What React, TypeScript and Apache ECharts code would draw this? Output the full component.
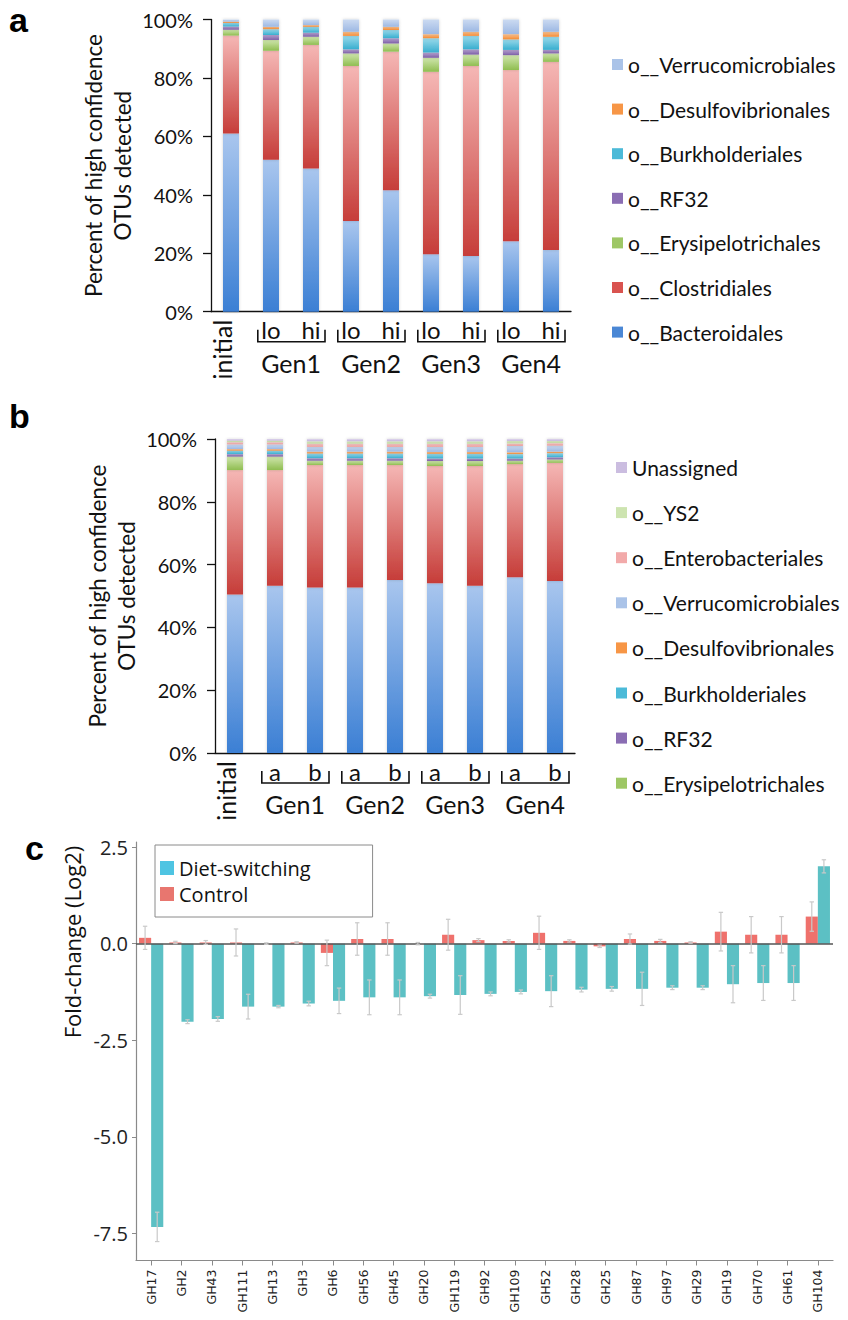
import React, { useEffect, useRef } from "react";
import * as echarts from "echarts";

// ---------- Panel a ----------
const catsA = ["initial", "Gen1 lo", "Gen1 hi", "Gen2 lo", "Gen2 hi", "Gen3 lo", "Gen3 hi", "Gen4 lo", "Gen4 hi"];
const aBacteroidales = [61.0, 52.0, 49.0, 31.0, 41.6, 19.7, 19.1, 24.1, 21.1];
const aClostridiales = [33.5, 37.3, 42.3, 53.1, 47.4, 62.4, 65.0, 58.6, 64.4];
const aErysipelotrichales = [2.0, 3.7, 2.8, 4.3, 2.8, 4.8, 3.9, 5.1, 2.9];
const aRF32 = [1.1, 1.7, 1.4, 1.4, 1.8, 1.8, 1.8, 1.8, 1.2];
const aBurkholderiales = [1.2, 2.0, 2.0, 4.6, 2.8, 4.9, 4.6, 3.6, 4.5];
const aDesulfovibrionales = [0.5, 0.8, 0.6, 1.4, 1.1, 1.4, 1.4, 1.8, 1.7];
const aVerrucomicrobiales = [0.7, 2.5, 1.9, 4.2, 2.5, 5.0, 4.2, 5.0, 4.2];

// ---------- Panel b ----------
const catsB = ["initial", "Gen1 a", "Gen1 b", "Gen2 a", "Gen2 b", "Gen3 a", "Gen3 b", "Gen4 a", "Gen4 b"];
const bBacteroidales = [50.5, 53.3, 52.7, 52.7, 55.1, 54.1, 53.3, 56.0, 54.8];
const bClostridiales = [39.6, 36.8, 39.0, 39.0, 36.6, 37.3, 38.1, 36.0, 37.6];
const bErysipelotrichales = [4.3, 4.3, 1.4, 1.4, 1.4, 1.6, 1.6, 1.1, 1.1];
const bRF32 = [0.8, 0.8, 0.8, 0.8, 0.8, 0.8, 0.8, 0.7, 0.7];
const bBurkholderiales = [1.1, 1.1, 1.5, 1.5, 1.5, 1.5, 1.5, 1.4, 1.3];
const bDesulfovibrionales = [0.5, 0.5, 0.6, 0.6, 0.6, 0.6, 0.6, 0.6, 0.5];
const bVerrucomicrobiales = [1.5, 1.5, 1.5, 1.5, 1.5, 1.6, 1.6, 2.0, 1.9];
const bEnterobacteriales = [0.7, 0.7, 1.0, 1.0, 1.0, 1.0, 1.0, 0.8, 0.8];
const bYS2 = [0.5, 0.5, 0.8, 0.8, 0.8, 0.8, 0.8, 0.8, 0.7];
const bUnassigned = [0.5, 0.5, 0.7, 0.7, 0.7, 0.7, 0.7, 0.6, 0.6];

const genGroups = ["Gen1", "Gen2", "Gen3", "Gen4"];
const pctTicks = [0, 20, 40, 60, 80, 100];

// ---------- Panel c ----------
const ghCats = ["GH17", "GH2", "GH43", "GH111", "GH13", "GH3", "GH6", "GH56", "GH45", "GH20", "GH119", "GH92", "GH109", "GH52", "GH28", "GH25", "GH87", "GH97", "GH29", "GH19", "GH70", "GH61", "GH104"];
const dietVals = [-7.33, -2.02, -1.95, -1.63, -1.63, -1.55, -1.48, -1.39, -1.39, -1.36, -1.33, -1.30, -1.25, -1.23, -1.19, -1.17, -1.17, -1.14, -1.14, -1.05, -1.02, -1.02, 2.0];
const dietErr = [0.38, 0.05, 0.06, 0.32, 0.03, 0.06, 0.33, 0.45, 0.45, 0.05, 0.5, 0.05, 0.05, 0.4, 0.06, 0.06, 0.43, 0.05, 0.05, 0.48, 0.45, 0.45, 0.17];
const controlVals = [0.15, 0.03, 0.03, 0.03, 0.0, 0.03, -0.24, 0.12, 0.12, 0.0, 0.23, 0.09, 0.07, 0.28, 0.07, -0.07, 0.12, 0.07, 0.03, 0.31, 0.23, 0.23, 0.7];
const controlErr = [0.3, 0.03, 0.05, 0.35, 0.02, 0.02, 0.33, 0.42, 0.42, 0.03, 0.4, 0.04, 0.03, 0.43, 0.03, 0.03, 0.13, 0.04, 0.02, 0.5, 0.47, 0.47, 0.38];
const fcTicks = [-7.5, -5, -2.5, 0, 2.5];

const FONT = "Lato, 'Open Sans', sans-serif";
const FONT_C = "'Open Sans', sans-serif";

function grad(top: string, bottom: string) {
  return new echarts.graphic.LinearGradient(0, 0, 0, 1, [
    { offset: 0, color: top },
    { offset: 1, color: bottom },
  ]);
}

type Taxon = { name: string; a?: number[]; b: number[]; top: string; bottom: string; solid: string };
const taxa: Taxon[] = [
  { name: "o__Bacteroidales", a: aBacteroidales, b: bBacteroidales, top: "#a9c6ee", bottom: "#3b7fd4", solid: "#4a87d5" },
  { name: "o__Clostridiales", a: aClostridiales, b: bClostridiales, top: "#f5b7b5", bottom: "#c63d39", solid: "#d9534f" },
  { name: "o__Erysipelotrichales", a: aErysipelotrichales, b: bErysipelotrichales, top: "#d0e6ae", bottom: "#8fbd50", solid: "#9ec765" },
  { name: "o__RF32", a: aRF32, b: bRF32, top: "#b9a6d3", bottom: "#7c5ea6", solid: "#8a6db3" },
  { name: "o__Burkholderiales", a: aBurkholderiales, b: bBurkholderiales, top: "#9bdaeb", bottom: "#38aecf", solid: "#4bbad8" },
  { name: "o__Desulfovibrionales", a: aDesulfovibrionales, b: bDesulfovibrionales, top: "#fbc595", bottom: "#f48a32", solid: "#f79646" },
  { name: "o__Verrucomicrobiales", a: aVerrucomicrobiales, b: bVerrucomicrobiales, top: "#cbdaf1", bottom: "#9db8e3", solid: "#aac3e8" },
  { name: "o__Enterobacteriales", b: bEnterobacteriales, top: "#f9cfcf", bottom: "#ee9a9a", solid: "#f2aaaa" },
  { name: "o__YS2", b: bYS2, top: "#e0eecb", bottom: "#c2dc9f", solid: "#cde4b0" },
  { name: "Unassigned", b: bUnassigned, top: "#e0d7ee", bottom: "#c1b1da", solid: "#cbbde0" },
];

const legendAOrder = ["o__Verrucomicrobiales", "o__Desulfovibrionales", "o__Burkholderiales", "o__RF32", "o__Erysipelotrichales", "o__Clostridiales", "o__Bacteroidales"];
const legendBOrder = ["Unassigned", "o__YS2", "o__Enterobacteriales", "o__Verrucomicrobiales", "o__Desulfovibrionales", "o__Burkholderiales", "o__RF32", "o__Erysipelotrichales"];

const colorOf = (n: string) => taxa.find((t) => t.name === n)!.solid;

function pctAxis(gridIndex: number) {
  return {
    type: "value",
    gridIndex,
    min: 0,
    max: 100,
    interval: 20,
    name: "Percent of high confidence\nOTUs detected",
    nameLocation: "middle",
    nameGap: 74,
    nameTextStyle: { fontFamily: FONT, fontSize: 22.5, color: "#111", lineHeight: 29 },
    axisLine: { show: true, lineStyle: { color: "#111", width: 1.3 } },
    axisTick: { show: true, length: 8, lineStyle: { color: "#111", width: 1.3 } },
    axisLabel: { formatter: "{value}%", fontFamily: FONT, fontSize: 20, color: "#111", margin: 18, customValues: pctTicks },
    splitLine: { show: false },
  };
}

function catAxis(gridIndex: number, cats: string[]) {
  return {
    type: "category",
    gridIndex,
    data: cats,
    axisLine: { show: true, lineStyle: { color: "#111", width: 1.3 } },
    axisTick: { show: false },
    axisLabel: {
      interval: 0,
      margin: 6,
      fontFamily: FONT,
      fontSize: 24,
      color: "#111",
      formatter: (v: string) => (v === "initial" ? "" : v.split(" ")[1]),
    },
  };
}

function errRender(offset: number) {
  return (params: any, api: any) => {
    const idx = api.value(0);
    const val = api.value(1);
    const err = api.value(2);
    const band = api.size([1, 0])[0];
    const cx = api.coord([idx, val])[0] + offset * band;
    const yt = api.coord([idx, val + err])[1];
    const yb = api.coord([idx, val - err])[1];
    const cap = 2.2;
    const st = { stroke: "#c9c9c9", lineWidth: 1.2 };
    return {
      type: "group",
      children: [
        { type: "line", shape: { x1: cx, y1: yt, x2: cx, y2: yb }, style: st },
        { type: "line", shape: { x1: cx - cap, y1: yt, x2: cx + cap, y2: yt }, style: st },
        { type: "line", shape: { x1: cx - cap, y1: yb, x2: cx + cap, y2: yb }, style: st },
      ],
    };
  };
}

export default function App() {
  const ref = useRef<HTMLDivElement>(null);
  useEffect(() => {
    const el = ref.current!;
    const chart = echarts.init(el, null, { renderer: "svg", width: 848, height: 1320 });

    const series: any[] = [];
    taxa.forEach((t) => {
      const itemStyle = { color: grad(t.top, t.bottom), shadowBlur: 3, shadowColor: "rgba(0,0,0,0.18)" };
      if (t.a) {
        series.push({ type: "bar", name: t.name, stack: "a", xAxisIndex: 0, yAxisIndex: 0, barWidth: "40%", data: t.a, itemStyle });
      }
      series.push({ type: "bar", name: t.name, stack: "b", xAxisIndex: 1, yAxisIndex: 1, barWidth: "40%", data: t.b, itemStyle });
    });

    series.push({
      type: "bar",
      name: "Control",
      xAxisIndex: 2,
      yAxisIndex: 2,
      barWidth: "40%",
      barGap: "0%",
      data: controlVals,
      itemStyle: { color: "#ef716c" },
    });
    series.push({
      type: "bar",
      name: "Diet-switching",
      xAxisIndex: 2,
      yAxisIndex: 2,
      barWidth: "40%",
      barGap: "0%",
      data: dietVals,
      itemStyle: { color: "#5cc0c4" },
      markLine: {
        silent: true,
        symbol: "none",
        label: { show: false },
        lineStyle: { color: "#555", width: 1.5, type: "solid" },
        data: [{ yAxis: 0 }],
      },
    });
    series.push({
      type: "custom",
      name: "controlErr",
      xAxisIndex: 2,
      yAxisIndex: 2,
      z: 5,
      renderItem: errRender(-0.2),
      encode: { x: 0, y: 1 },
      data: controlVals.map((v, i) => [i, v, controlErr[i]]),
    });
    series.push({
      type: "custom",
      name: "dietErr",
      xAxisIndex: 2,
      yAxisIndex: 2,
      z: 5,
      renderItem: errRender(0.2),
      encode: { x: 0, y: 1 },
      data: dietVals.map((v, i) => [i, v, dietErr[i]]),
    });

    const legendText = { fontFamily: FONT, fontSize: 21, color: "#111", lineHeight: 20 };

    const option: any = {
      animation: false,
      backgroundColor: "#fff",
      grid: [
        { left: 211, top: 19.5, width: 360, height: 292.2 },
        { left: 215, top: 439, width: 360, height: 314 },
        { left: 136, top: 842, width: 697, height: 418.5 },
      ],
      xAxis: [
        catAxis(0, catsA),
        catAxis(1, catsB),
        {
          type: "category",
          gridIndex: 2,
          data: ghCats,
          axisLine: { show: true, onZero: false, lineStyle: { color: "#8a8a8a", width: 1.2 } },
          axisTick: { show: true, alignWithLabel: true, length: 5, lineStyle: { color: "#8a8a8a" } },
          axisLabel: { interval: 0, rotate: 90, margin: 9, fontFamily: "'DejaVu Sans', sans-serif", fontSize: 12.5, color: "#222" },
        },
      ],
      yAxis: [
        pctAxis(0),
        pctAxis(1),
        {
          type: "value",
          gridIndex: 2,
          min: -8.2,
          max: 2.63,
          axisLine: { show: true, lineStyle: { color: "#8a8a8a", width: 1.2 } },
          axisTick: { show: true, length: 4, customValues: fcTicks, lineStyle: { color: "#8a8a8a" } },
          axisLabel: {
            customValues: fcTicks,
            formatter: (v: number) => v.toFixed(1),
            fontFamily: FONT_C,
            fontSize: 20,
            color: "#222",
            margin: 8,
          },
          splitLine: { show: false },
        },
      ],
      legend: [
        {
          orient: "vertical",
          left: 612,
          top: 54,
          padding: 0,
          itemGap: 23.6,
          itemWidth: 11,
          itemHeight: 11,
          icon: "rect",
          textStyle: legendText,
          selectedMode: false,
          data: legendAOrder.map((n) => ({ name: n, itemStyle: { color: colorOf(n) } })),
        },
        {
          orient: "vertical",
          left: 616,
          top: 457,
          padding: 0,
          itemGap: 24.1,
          itemWidth: 11,
          itemHeight: 11,
          icon: "rect",
          textStyle: legendText,
          selectedMode: false,
          data: legendBOrder.map((n) => ({ name: n, itemStyle: { color: colorOf(n) } })),
        },
        {
          orient: "vertical",
          left: 155,
          top: 845,
          padding: [11, 62, 11, 5],
          itemGap: 2,
          itemWidth: 14,
          itemHeight: 14,
          icon: "rect",
          borderColor: "#8a8a8a",
          borderWidth: 1,
          textStyle: { fontFamily: FONT_C, fontSize: 20, color: "#111", lineHeight: 24 },
          selectedMode: false,
          data: [
            { name: "Diet-switching", itemStyle: { color: "#4ec4e2" } },
            { name: "Control", itemStyle: { color: "#e8766f" } },
          ],
        },
      ],
      series,
    };

    chart.setOption(option);

    const elements: any[] = [];
    const letter = (t: string, x: number, y: number) => ({
      type: "text",
      x,
      y,
      style: { text: t, fontFamily: "'Liberation Sans', Arial, sans-serif", fontWeight: "bold", fontSize: 34, fill: "#000", verticalAlign: "middle" },
    });
    elements.push(letter("a", 9, 20), letter("b", 9, 416), letter("c", 25, 848));
    elements.push({
      type: "text",
      x: 72,
      y: 942,
      rotation: Math.PI / 2,
      style: { text: "Fold-change (Log2)", fontFamily: FONT_C, fontSize: 22, fill: "#111", align: "center", verticalAlign: "middle" },
    });

    const addGroupLabels = (xIdx: number, yIdx: number, cats: string[]) => {
      const px = (i: number) => chart.convertToPixel({ xAxisIndex: xIdx } as any, i) as number;
      const base = chart.convertToPixel({ yAxisIndex: yIdx } as any, 0) as number;
      const band = px(1) - px(0);
      elements.push({
        type: "text",
        x: px(0) - 9,
        y: base + 8,
        rotation: Math.PI / 2,
        style: { text: cats[0], fontFamily: FONT, fontSize: 25, fill: "#111", align: "right", verticalAlign: "middle" },
      });
      genGroups.forEach((g) => {
        const idxs = cats.map((c, i) => (c.startsWith(g + " ") ? i : -1)).filter((i) => i >= 0);
        const x1 = px(idxs[0]) - band * 0.33;
        const x2 = px(idxs[idxs.length - 1]) + band * 0.35;
        const yb = base + 30;
        elements.push({
          type: "polyline",
          shape: { points: [[x1, yb - 12], [x1, yb], [x2, yb], [x2, yb - 12]] },
          style: { stroke: "#111", lineWidth: 1.6, fill: null },
        });
        elements.push({
          type: "text",
          x: (px(idxs[0]) + px(idxs[idxs.length - 1])) / 2,
          y: base + 51,
          style: { text: g, fontFamily: FONT, fontSize: 25, fill: "#111", align: "center", verticalAlign: "middle" },
        });
      });
    };
    addGroupLabels(0, 0, catsA);
    addGroupLabels(1, 1, catsB);

    chart.setOption({ graphic: { elements } });

    return () => chart.dispose();
  }, []);
  return <div ref={ref} style={{ position: "absolute", left: 0, top: 0, width: 848, height: 1320, background: "#fff" }} />;
}
